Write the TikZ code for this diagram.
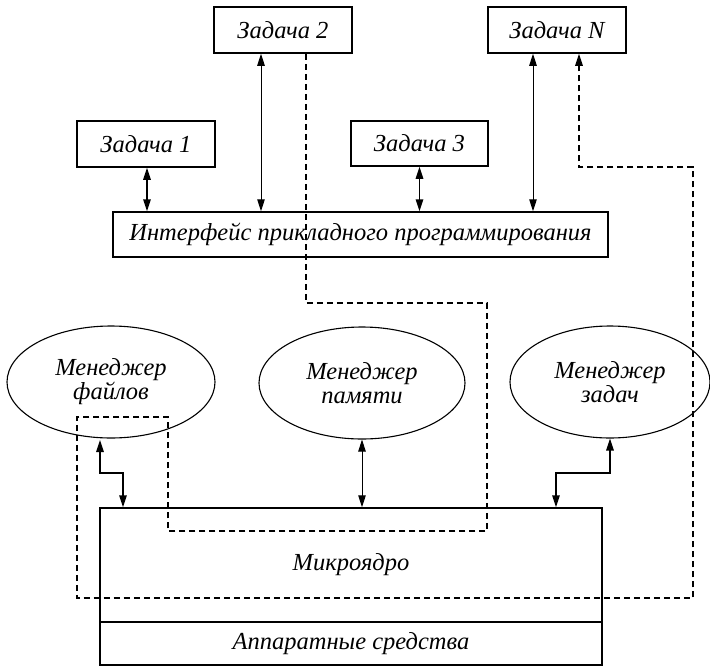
\documentclass[tikz,border=0pt]{standalone}
\usepackage{fontspec}
\setmainfont{Liberation Serif}
\usetikzlibrary{shapes.geometric,arrows.meta,calc}
\begin{document}
\begin{tikzpicture}[x=1pt,y=-1pt,
  every node/.style={font=\fontsize{24.5}{24}\selectfont\itshape},
  box/.style={draw,line width=1.5pt,rectangle,inner sep=0pt},
  oval/.style={draw,line width=1.1pt,ellipse,inner sep=0pt,align=center},
  tip/.style={-{Triangle[length=12pt,width=7.5pt]}},
  both/.style={{Triangle[length=12pt,width=7.5pt]}-{Triangle[length=12pt,width=7.5pt]}},
  thick link/.style={both,line width=1.6pt},
  thin link/.style={both,line width=1pt},
  dashlink/.style={tip,line width=1.2pt,dash pattern=on 6pt off 4pt}]
\useasboundingbox (0,0) rectangle (710,667);

% application tasks
\node[box,minimum width=138pt,minimum height=46pt] (z2) at (283,30) {Задача 2};
\node[box,minimum width=138pt,minimum height=46pt] (zn) at (557,30) {Задача \textit{N}};
\node[box,minimum width=138pt,minimum height=46pt] (z1) at (146,144) {Задача 1};
\node[box,minimum width=137pt,minimum height=45pt] (z3) at (419.5,143.5) {Задача 3};

% API layer
\node[box,minimum width=495pt,minimum height=45pt] (api) at (360.5,234.5) {Интерфейс прикладного программирования};

% servers
\node[oval,minimum width=208pt,minimum height=112pt] (fm) at (111,382) {Менеджер\\файлов};
\node[oval,minimum width=206pt,minimum height=112pt] (mm) at (362,383) {Менеджер\\памяти};
\node[oval,minimum width=200pt,minimum height=112pt] (tm) at (610,382) {Менеджер\\задач};

% kernel and hardware
\node[box,minimum width=502pt,minimum height=114pt] (mk) at (351,565) {Микроядро};
\node[box,minimum width=502pt,minimum height=43pt] (hw) at (351,643.5) {Аппаратные средства};

% task <-> API connectors
\coordinate (a1) at ($(z1.south)+(1,0)$);
\coordinate (a2) at ($(z2.south)+(-22,0)$);
\coordinate (a3) at (z3.south);
\coordinate (an) at ($(zn.south)+(-24,0)$);
\draw[thick link] (a1) -- (a1 |- api.north);
\draw[thin link] (a2) -- (a2 |- api.north);
\draw[thick link] (a3) -- (a3 |- api.north);
\draw[thin link] (an) -- (an |- api.north);

% server <-> kernel connectors
\coordinate (f1) at (100,440);
\coordinate (f2) at (123,508);
\draw[thick link] (f1) |- (123,473) -- (f2 |- mk.north);
\coordinate (m1) at (mm.south);
\draw[thin link] (m1) -- (m1 |- mk.north);
\coordinate (t1) at (tm.south);
\draw[thick link] (t1) |- (556,473) -- (556,0 |- mk.north);

% message path between tasks through the kernel
\coordinate (d0) at ($(z2.south)+(23,0)$);
\coordinate (dn) at ($(zn.south)+(22,0)$);
\draw[dashlink] (d0) -- (306,303) -- (487,303) -- (487,531) -- (168,531)
  -- (168,417) -- (77,417) -- (77,598) -- (693,598) -- (693,167)
  -- (579,167) -- (dn);
\end{tikzpicture}
\end{document}
